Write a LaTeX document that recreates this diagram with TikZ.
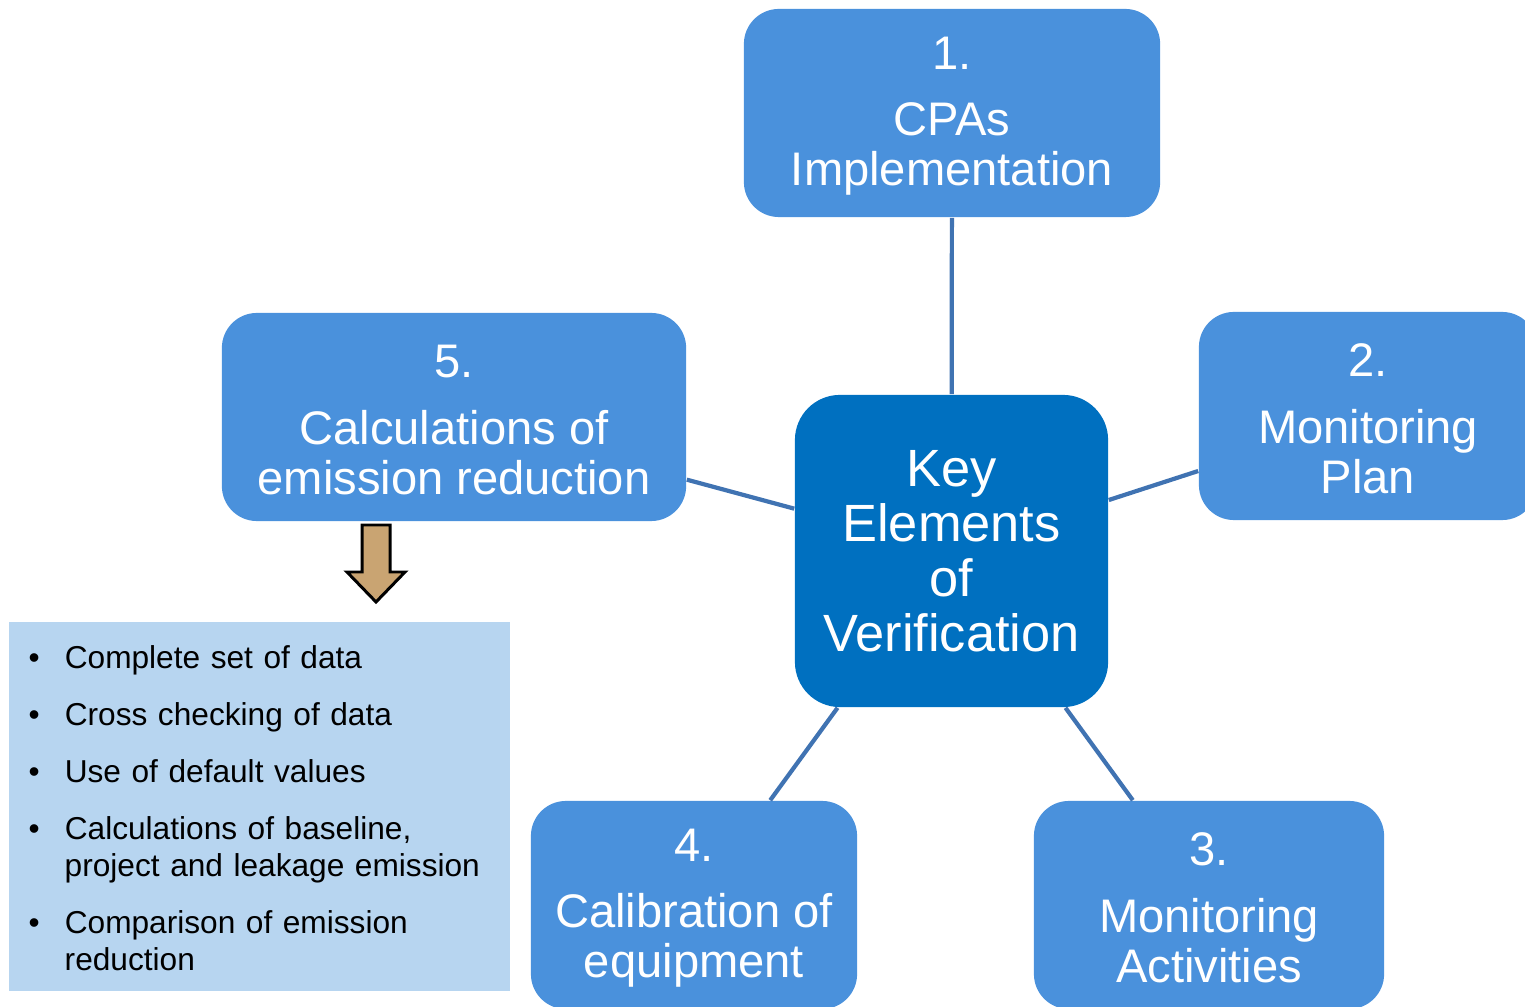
\documentclass[tikz,border=0pt]{standalone}
\usepackage{fontspec}
\setmainfont{Liberation Sans}
\usetikzlibrary{positioning}

\definecolor{stepblue}{RGB}{74,145,220}
\definecolor{hubblue}{RGB}{0,112,192}
\definecolor{linkblue}{RGB}{64,115,178}
\definecolor{listblue}{RGB}{183,213,240}
\definecolor{arrowtan}{RGB}{201,164,114}

\tikzset{
  stepbox/.style={rectangle, rounded corners=0.35cm, fill=stepblue, text=white,
    align=center, inner sep=0pt, minimum height=2.08cm,
    font=\fontsize{13.4}{14.2}\selectfont},
  hub/.style={rectangle, rounded corners=0.45cm, fill=hubblue, text=white,
    align=center, inner sep=0pt, minimum width=3.13cm, minimum height=3.12cm,
    font=\fontsize{14.9}{15.6}\selectfont},
  link/.style={draw=linkblue, line width=1.2pt},
  checklist/.style={rectangle, fill=listblue, anchor=north west, inner xsep=0.2cm,
    inner ysep=0pt, text width=4.61cm, minimum height=3.69cm,
    font=\fontsize{9}{10.5}\selectfont}
}
\newcommand{\numgap}{\rule{0pt}{11pt}\\[4.8pt]}
\newenvironment{dotlist}{\vspace*{-0.1cm}\begin{list}{\textbullet}{%
  \setlength{\leftmargin}{0.36cm}\setlength{\labelsep}{0.25cm}%
  \setlength{\labelwidth}{0.11cm}\setlength{\itemsep}{5.7pt}%
  \setlength{\parsep}{0pt}\setlength{\topsep}{0pt}\setlength{\partopsep}{0pt}}\raggedright}
  {\end{list}}

\begin{document}
\begin{tikzpicture}[x=0.01cm, y=-0.01cm]
	\useasboundingbox (0,0) rectangle (1525,1007);

	\node[hub] (key) at (951.5,551) {Key\\Elements\\of\\Verification};
	\node[stepbox, minimum width=4.16cm] (s1) at (952,113) {1.\numgap CPAs\\Implementation};
	\node[stepbox, minimum width=3.38cm] (s2) at (1368,416) {2.\numgap Monitoring\\Plan};
	\node[stepbox, minimum width=3.50cm] (s3) at (1209,905) {3.\numgap Monitoring\\Activities};
	\node[stepbox, minimum width=3.26cm] (s4) at (694,905) {4.\numgap Calibration of\\equipment};
	\node[stepbox, minimum width=4.64cm] (s5) at (454,417) {5.\numgap Calculations of\\emission reduction};

	\path[link] (key) edge (s1)
		(key) edge (s2)
		(key) edge (s3)
		(key) edge (s4)
		(key) edge (s5);

	% down arrow under step 5
	\draw[fill=arrowtan, line width=0.85pt, line join=miter]
		(362,525) -- (390,525) -- (390,572) -- (405,572) -- (376,602)
		-- (347,572) -- (362,572) -- cycle;

	\node[checklist] (data) at (8,621) {%
		\begin{dotlist}
		\item Complete set of data
		\item Cross checking of data
		\item Use of default values
		\item Calculations of baseline,\newline project and leakage emission
		\item Comparison of emission\newline reduction
		\end{dotlist}};
\end{tikzpicture}
\end{document}
